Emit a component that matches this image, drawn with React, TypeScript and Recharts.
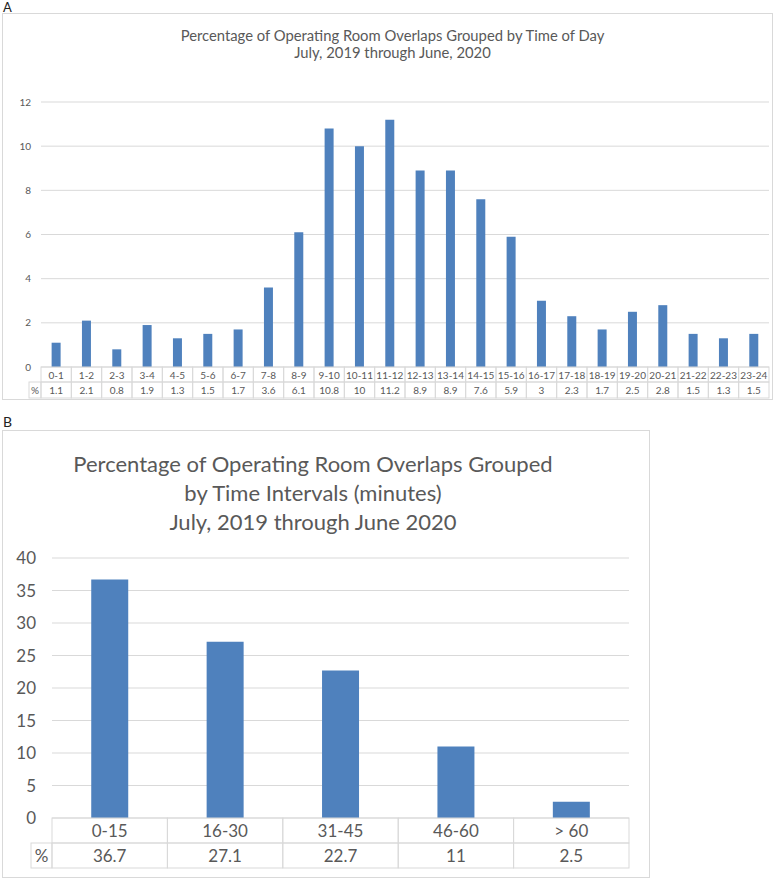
import { BarChart, Bar, XAxis, YAxis, CartesianGrid } from "recharts";

// chart A: overlaps by hour of day
const hours = [
  "0-1", "1-2", "2-3", "3-4", "4-5", "5-6", "6-7", "7-8", "8-9", "9-10", "10-11", "11-12",
  "12-13", "13-14", "14-15", "15-16", "16-17", "17-18", "18-19", "19-20", "20-21", "21-22", "22-23", "23-24",
];
const hourPct = [1.1, 2.1, 0.8, 1.9, 1.3, 1.5, 1.7, 3.6, 6.1, 10.8, 10, 11.2, 8.9, 8.9, 7.6, 5.9, 3, 2.3, 1.7, 2.5, 2.8, 1.5, 1.3, 1.5];
const hourTicks = [0, 2, 4, 6, 8, 10, 12];

// chart B: overlaps by interval length
const intervals = ["0-15", "16-30", "31-45", "46-60", "> 60"];
const intervalPct = [36.7, 27.1, 22.7, 11, 2.5];
const intervalTicks = [0, 5, 10, 15, 20, 25, 30, 35, 40];

const FONT = "Lato, 'Open Sans', sans-serif";
const TEXT = "#595959";
const GRID = "#d9d9d9";
const BAR = "#4f81bd";

const hourData = hours.map((h, i) => ({ name: h, pct: hourPct[i] }));
const intervalData = intervals.map((c, i) => ({ name: c, pct: intervalPct[i] }));

function tableTick(vals: number[], cellW: number, row1: number, row2: number, labelW: number, fontSize: number) {
  return (props: any) => {
    const { x, y, payload } = props;
    const i = payload.index;
    const left = x - cellW / 2;
    const ts = { fill: TEXT, fontSize, fontFamily: FONT };
    return (
      <g>
        <rect x={left} y={y} width={cellW} height={row1} fill="none" stroke={GRID} />
        <text x={x} y={y + row1 / 2} textAnchor="middle" dominantBaseline="central" style={ts}>
          {payload.value}
        </text>
        <rect x={left} y={y + row1} width={cellW} height={row2} fill="none" stroke={GRID} />
        <text x={x} y={y + row1 + row2 / 2} textAnchor="middle" dominantBaseline="central" style={ts}>
          {vals[i]}
        </text>
        {i === 0 && (
          <g>
            <rect x={left - labelW} y={y + row1} width={labelW} height={row2} fill="none" stroke={GRID} />
            <text x={left - labelW / 2} y={y + row1 + row2 / 2} textAnchor="middle" dominantBaseline="central" style={ts}>
              %
            </text>
          </g>
        )}
      </g>
    );
  };
}

// layout A
const aW = 771, aH = 387, aYW = 39, aRight = 4;
const aCell = (aW - aYW - aRight) / hours.length;

// layout B
const bW = 648, bH = 448, bYW = 50, bRight = 21;
const bCell = (bW - bYW - bRight) / intervals.length;

export default function App() {
  return (
    <div style={{ position: "absolute", left: 0, top: 0, width: 777, height: 879, background: "#fff", fontFamily: FONT }}>
      <div style={{ position: "absolute", left: 3, top: 1, fontSize: 13, lineHeight: "13px", color: "#222" }}>A</div>
      <div style={{ position: "absolute", left: 2, top: 13, width: aW, height: aH, border: `1px solid ${GRID}`, boxSizing: "border-box" }} />
      <div style={{ position: "absolute", left: 2, top: 27, width: aW + 10, textAlign: "center", color: TEXT, fontSize: 14.8, lineHeight: "17px" }}>
        Percentage of Operating Room Overlaps Grouped by Time of Day
        <br />
        July, 2019 through June, 2020
      </div>
      <div style={{ position: "absolute", left: 2, top: 13 }}>
        <BarChart width={aW} height={aH} data={hourData} margin={{ top: 89, right: aRight, bottom: 0, left: 0 }} barCategoryGap="35%">
          <CartesianGrid vertical={false} stroke={GRID} />
          <YAxis
            width={aYW}
            domain={[0, 12]}
            ticks={hourTicks}
            axisLine={false}
            tickLine={false}
            tickSize={6}
            tickMargin={4}
            tick={{ fill: TEXT, fontSize: 10, fontFamily: FONT }}
          />
          <XAxis
            dataKey="name"
            height={33}
            interval={0}
            axisLine={false}
            tickLine={false}
            tickSize={0}
            tickMargin={0}
            tick={tableTick(hourPct, aCell, 15, 16, 12, 10)}
          />
          <Bar dataKey="pct" fill={BAR} isAnimationActive={false} />
        </BarChart>
      </div>

      <div style={{ position: "absolute", left: 3, top: 415, fontSize: 14, lineHeight: "14px", color: "#222" }}>B</div>
      <div style={{ position: "absolute", left: 2, top: 430, width: bW, height: bH, border: `1px solid ${GRID}`, boxSizing: "border-box" }} />
      <div style={{ position: "absolute", left: 2, top: 449, width: bW - 26, textAlign: "center", color: TEXT, fontSize: 22, lineHeight: "29px" }}>
        Percentage of Operating Room Overlaps Grouped
        <br />
        by Time Intervals (minutes)
        <br />
        July, 2019 through June 2020
      </div>
      <div style={{ position: "absolute", left: 2, top: 430 }}>
        <BarChart width={bW} height={bH} data={intervalData} margin={{ top: 128, right: bRight, bottom: 0, left: 0 }} barCategoryGap="34%">
          <CartesianGrid vertical={false} stroke={GRID} />
          <YAxis
            width={bYW}
            domain={[0, 40]}
            ticks={intervalTicks}
            axisLine={false}
            tickLine={false}
            tickSize={6}
            tickMargin={10}
            tick={{ fill: TEXT, fontSize: 17, fontFamily: FONT }}
          />
          <XAxis
            dataKey="name"
            height={60}
            interval={0}
            axisLine={false}
            tickLine={false}
            tickSize={0}
            tickMargin={0}
            tick={tableTick(intervalPct, bCell, 25, 25, 21, 17)}
          />
          <Bar dataKey="pct" fill={BAR} isAnimationActive={false} />
        </BarChart>
      </div>
    </div>
  );
}
